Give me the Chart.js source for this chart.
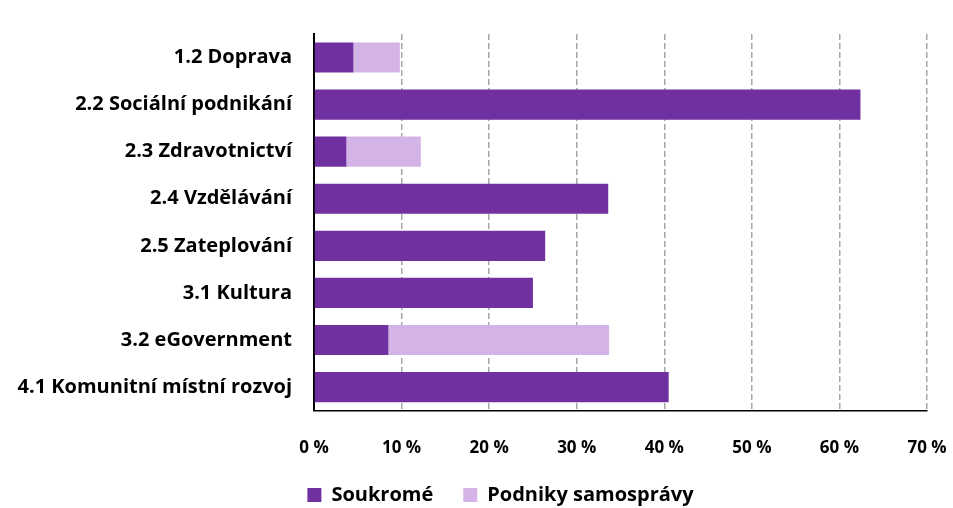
<!DOCTYPE html>
<html>
<head>
<meta charset="utf-8">
<script src="https://cdn.jsdelivr.net/npm/chart.js@4/dist/chart.umd.min.js"></script>
<style>
  html, body { margin: 0; padding: 0; background: #fff; }
  #wrap { width: 953px; height: 508px; }
</style>
</head>
<body>
<div id="wrap"><canvas id="chart"></canvas></div>
<script>
const categories = ['1.2 Doprava', '2.2 Sociální podnikání', '2.3 Zdravotnictví', '2.4 Vzdělávání',
  '2.5 Zateplování', '3.1 Kultura', '3.2 eGovernment', '4.1 Komunitní místní rozvoj']
const soukrome = [4.5, 62.4, 3.7, 33.6, 26.4, 25.0, 8.5, 40.5]
const podniky = [5.3, 0, 8.5, 0, 0, 0, 25.2, 0]
const xTicks = [0, 10, 20, 30, 40, 50, 60, 70]

const labelFont = { family: '"Open Sans", sans-serif', size: 20, weight: 'bold' }
const tickFont = { family: '"Open Sans", sans-serif', size: 17, weight: 'bold' }

// legend padding gives the gap between items, but it also adds height; take some back,
// and move the legend a bit right like in the original
const legendFit = {
  id: 'legendFit',
  afterInit: (chart) => {
    const legend = chart.legend
    const fit = legend.fit
    legend.fit = function () {
      fit.call(this)
      this.height -= 7
    }
  },
  afterLayout: (chart) => {
    chart.legend.left += 74
  }
}

const ctx = document.getElementById('chart')
new Chart(ctx, {
  type: 'bar',
  data: {
    labels: categories,
    datasets: [{
      label: 'Soukromé',
      data: soukrome,
      backgroundColor: '#7030A0'
    }, {
      label: 'Podniky samosprávy',
      data: podniky,
      backgroundColor: '#D4B4E7'
    }]
  },
  options: {
    indexAxis: 'y',
    responsive: true,
    maintainAspectRatio: false,
    animation: false,
    layout: { padding: { top: 12, right: 26, left: 0, bottom: 0 } },
    datasets: { bar: { barPercentage: 0.64, categoryPercentage: 1 } },
    plugins: {
      tooltip: { enabled: false },
      legend: {
        position: 'bottom',
        labels: {
          color: '#000',
          font: labelFont,
          boxWidth: 14,
          boxHeight: 14,
          padding: 30
        }
      }
    },
    scales: {
      x: {
        stacked: true,
        min: 0,
        max: 70,
        afterBuildTicks: (scale) => { scale.ticks = xTicks.map(v => ({ value: v })) },
        afterFit: (scale) => { scale.height -= 7 },
        ticks: {
          color: '#000',
          font: tickFont,
          padding: 4,
          callback: (v) => v + ' %'
        },
        grid: {
          color: '#A6A6A6',
          lineWidth: 1.5,
          drawTicks: true,
          tickLength: 23,
          tickColor: 'rgba(0,0,0,0)'
        },
        border: { color: '#000', width: 1.5, dash: [6, 3] }
      },
      y: {
        stacked: true,
        afterFit: (scale) => { scale.width = 314 },
        ticks: {
          color: '#000',
          font: labelFont,
          padding: 22
        },
        grid: { display: false, drawTicks: false },
        border: { color: '#000', width: 2 }
      }
    }
  },
  plugins: [legendFit]
})
</script>
</body>
</html>
